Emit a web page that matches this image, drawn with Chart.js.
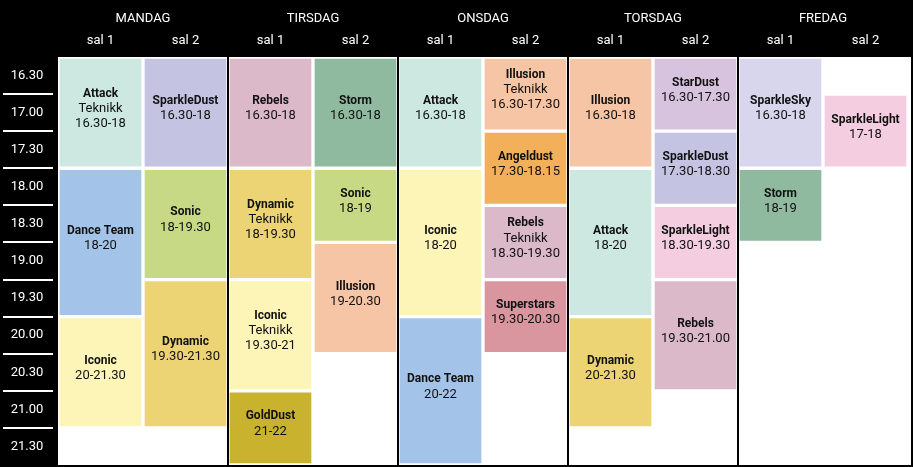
<!DOCTYPE html>
<html>
<head>
<meta charset="utf-8">
<script src="https://cdn.jsdelivr.net/npm/chart.js@4"></script>
<style>
  body { margin: 0; background: #fff; }
  #wrap { width: 913px; height: 467px; }
</style>
</head>
<body>
<div id="wrap"><canvas id="timeplan"></canvas></div>
<script>
var days = ["MANDAG", "TIRSDAG", "ONSDAG", "TORSDAG", "FREDAG"];
var columns = ["sal 1", "sal 2", "sal 1", "sal 2", "sal 1", "sal 2", "sal 1", "sal 2", "sal 1", "sal 2"];
var times = ["16.30", "17.00", "17.30", "18.00", "18.30", "19.00", "19.30", "20.00", "20.30", "21.00", "21.30"];

// one entry per class
var names  = ["Attack", "Dance Team", "Iconic", "SparkleDust", "Sonic", "Dynamic",
              "Rebels", "Dynamic", "Iconic", "GoldDust", "Storm", "Sonic", "Illusion",
              "Attack", "Iconic", "Dance Team", "Illusion", "Angeldust", "Rebels", "Superstars",
              "Illusion", "Attack", "Dynamic", "StarDust", "SparkleDust", "SparkleLight", "Rebels",
              "SparkleSky", "Storm", "SparkleLight"];
var notes  = ["Teknikk", "", "", "", "", "",
              "", "Teknikk", "Teknikk", "", "", "", "",
              "", "", "", "Teknikk", "", "Teknikk", "",
              "", "", "", "", "", "", "",
              "", "", ""];
var labels = ["16.30-18", "18-20", "20-21.30", "16.30-18", "18-19.30", "19.30-21.30",
              "16.30-18", "18-19.30", "19.30-21", "21-22", "16.30-18", "18-19", "19-20.30",
              "16.30-18", "18-20", "20-22", "16.30-17.30", "17.30-18.15", "18.30-19.30", "19.30-20.30",
              "16.30-18", "18-20", "20-21.30", "16.30-17.30", "17.30-18.30", "18.30-19.30", "19.30-21.00",
              "16.30-18", "18-19", "17-18"];
var cols   = [0, 0, 0, 1, 1, 1,
              2, 2, 2, 2, 3, 3, 3,
              4, 4, 4, 5, 5, 5, 5,
              6, 6, 6, 7, 7, 7, 7,
              8, 8, 9];
var starts = [16.5, 18, 20, 16.5, 18, 19.5,
              16.5, 18, 19.5, 21, 16.5, 18, 19,
              16.5, 18, 20, 16.5, 17.5, 18.5, 19.5,
              16.5, 18, 20, 16.5, 17.5, 18.5, 19.5,
              16.5, 18, 17];
var ends   = [18, 20, 21.5, 18, 19.5, 21.5,
              18, 19.5, 21, 22, 18, 19, 20.5,
              18, 20, 22, 17.5, 18.5, 19.5, 20.5,
              18, 20, 21.5, 17.5, 18.5, 19.5, 21,
              18, 19, 18];

var palette = {
  "Attack": "#cde8e0", "SparkleDust": "#c5c3e2", "Rebels": "#dcb9c9", "Storm": "#8fbaa0",
  "Illusion": "#f6c5a5", "Angeldust": "#f2b05a", "Superstars": "#d9969f", "StarDust": "#d8c3df",
  "SparkleSky": "#d8d6ec", "SparkleLight": "#f4cde0", "Dance Team": "#a3c4e8", "Sonic": "#c8d985",
  "Dynamic": "#ecd474", "Iconic": "#fdf5b8", "GoldDust": "#c9b22e"
};

var colKeys = columns.map(function (c, i) { return "c" + i; });
var FONT = "'Liberation Sans Narrow', 'Roboto', sans-serif";

var framePlugin = {
  id: 'frame',
  beforeDraw: function (chart) {
    var ctx = chart.ctx, a = chart.chartArea, y = chart.scales.y, x = chart.scales.x;
    ctx.save();
    ctx.fillStyle = '#fff';
    ctx.fillRect(0, 0, chart.width, chart.height);
    ctx.fillStyle = '#000';
    ctx.fillRect(0, 0, chart.width, a.top);
    ctx.fillRect(0, 0, a.left, chart.height);
    ctx.restore();
  },
  afterDatasetsDraw: function (chart) {
    var ctx = chart.ctx, a = chart.chartArea, y = chart.scales.y, x = chart.scales.x;
    var colW = (a.right - a.left) / columns.length;
    ctx.save();
    ctx.textAlign = 'center';
    ctx.textBaseline = 'middle';
    // header
    ctx.fillStyle = '#fff';
    ctx.font = '13px ' + FONT;
    days.forEach(function (d, i) {
      ctx.fillText(d, a.left + colW * (2 * i + 1), 19);
    });
    columns.forEach(function (c, i) {
      ctx.fillText(c, x.getPixelForValue(i), 41);
    });
    // times column
    times.forEach(function (t, i) {
      var v = 16.5 + i * 0.5;
      ctx.fillStyle = '#fff';
      ctx.fillText(t, a.left / 2 - 2, y.getPixelForValue(v + 0.25));
      if (i > 0) {
        ctx.fillRect(3, Math.round(y.getPixelForValue(v)) - 1, a.left - 8, 2);
      }
    });
    // day separators
    ctx.fillStyle = '#000';
    for (var i = 1; i < days.length; i++) {
      ctx.fillRect(Math.round(a.left + colW * 2 * i) - 1, 0, 2, chart.height);
    }
    ctx.strokeStyle = '#000';
    ctx.lineWidth = 2;
    ctx.strokeRect(1, 1, chart.width - 2, chart.height - 2);
    // class texts
    names.forEach(function (n, i) {
      var lines = [[n, true]];
      if (notes[i]) lines.push([notes[i], false]);
      lines.push([labels[i], false]);
      var cx = x.getPixelForValue(cols[i]);
      var cy = (y.getPixelForValue(starts[i]) + y.getPixelForValue(ends[i])) / 2;
      var top = cy - (lines.length - 1) * 15 / 2 - 4;
      ctx.fillStyle = '#111';
      lines.forEach(function (l, k) {
        ctx.font = (l[1] ? 'bold 12px ' : '13px ') + FONT;
        ctx.fillText(l[0], cx, top + k * 15);
      });
    });
    ctx.restore();
  }
};

new Chart(document.getElementById('timeplan').getContext('2d'), {
  type: 'bar',
  data: {
    labels: colKeys,
    datasets: [{
      data: names.map(function (n, i) { return { x: colKeys[cols[i]], y: [starts[i], ends[i]] }; }),
      backgroundColor: names.map(function (n) { return palette[n]; }),
      borderColor: '#fff',
      borderWidth: 2,
      borderSkipped: false,
      barPercentage: 1,
      categoryPercentage: 1,
      grouped: false
    }]
  },
  options: {
    responsive: true,
    maintainAspectRatio: false,
    animation: false,
    layout: { padding: { left: 58, top: 57, right: 5, bottom: 2 } },
    plugins: { legend: { display: false }, tooltip: { enabled: false } },
    scales: {
      x: { type: 'category', display: false, offset: true },
      y: { min: 16.5, max: 22, reverse: true, display: false }
    }
  },
  plugins: [framePlugin]
});
</script>
</body>
</html>
